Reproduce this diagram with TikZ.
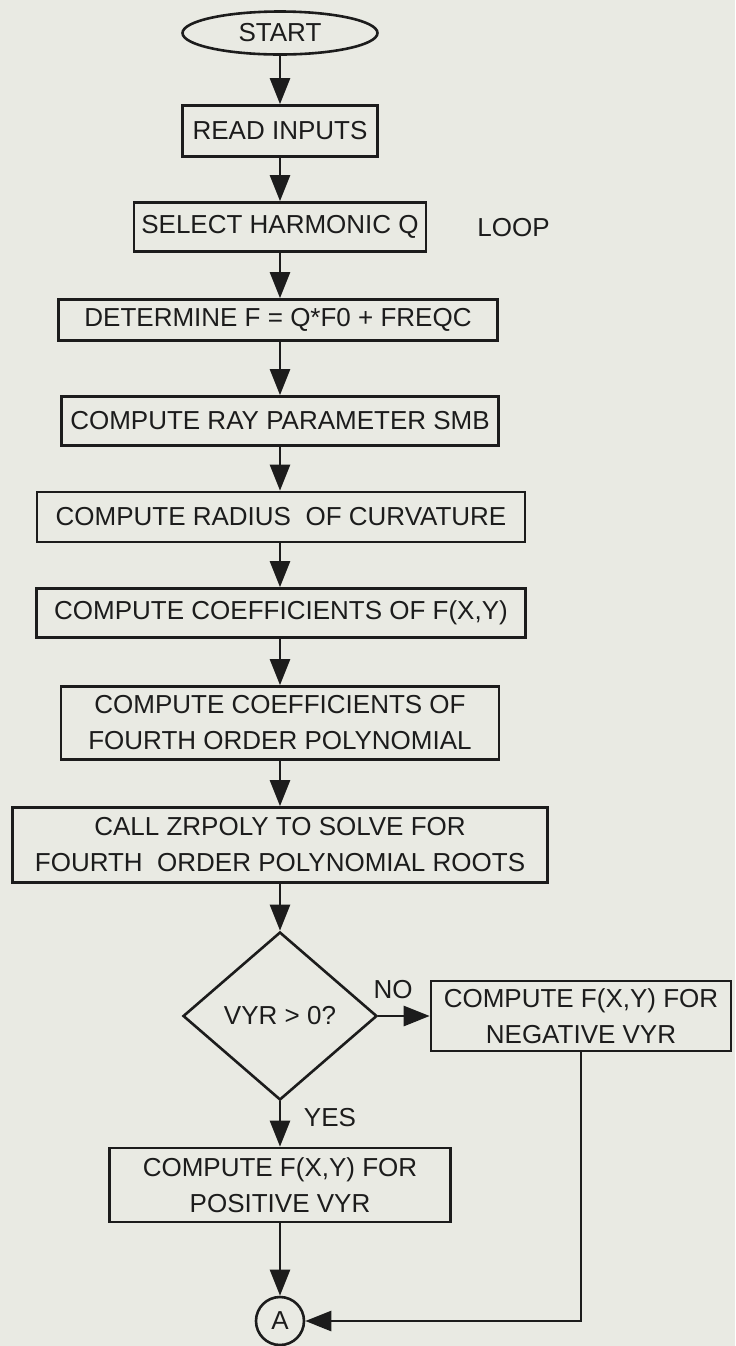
\documentclass[tikz,border=0pt]{standalone}
\usepackage{fontspec}
\setmainfont{Liberation Sans}
\usetikzlibrary{shapes.geometric,arrows.meta}
\definecolor{paper}{RGB}{233,234,227}
\definecolor{ink}{RGB}{28,28,28}
\begin{document}
\begin{tikzpicture}[x=0.5pt,y=-0.5pt]
\tikzstyle{block}=[draw=ink,line width=1.3pt,rectangle,inner sep=2pt,align=center,text=ink,font=\fontsize{13}{18}\selectfont]
\tikzstyle{term}=[block,ellipse,inner sep=0pt]
\tikzstyle{test}=[block,diamond,inner sep=0pt]
\tikzstyle{conn}=[block,circle,inner sep=0pt,minimum size=24pt]
\tikzstyle{flow}=[draw=ink,line width=1.3pt,-{Triangle[length=13pt,width=10pt]}]
\tikzstyle{tag}=[text=ink,font=\fontsize{13}{15}\selectfont,inner sep=0pt]
\fill[paper] (0,0) rectangle (735,1346);
\useasboundingbox (0,0) rectangle (735,1346);
\draw (280,33)   node[term,minimum width=97.5pt,minimum height=21.5pt] (start) {START};
\draw (280,131)  node[block,minimum width=97.5pt,minimum height=25.5pt] (read)  {READ INPUTS};
\draw (280,227)  node[block,minimum width=146pt,minimum height=24.5pt]  (harm)  {SELECT HARMONIC Q};
\draw (278,320)  node[block,minimum width=219.5pt,minimum height=20.5pt] (freq) {DETERMINE F = Q*F0 + FREQC};
\draw (280,421)  node[block,minimum width=218.5pt,minimum height=24.5pt] (smb)  {COMPUTE RAY PARAMETER SMB};
\draw (281,517)  node[block,minimum width=244pt,minimum height=25pt]    (rad)  {COMPUTE RADIUS\ \ OF CURVATURE};
\draw (281,613)  node[block,minimum width=244.5pt,minimum height=24.5pt] (cfxy) {COMPUTE COEFFICIENTS OF F(X,Y)};
\draw (280,723)  node[block,minimum width=219pt,minimum height=36.5pt]  (cpol) {COMPUTE COEFFICIENTS OF\\FOURTH ORDER POLYNOMIAL};
\draw (280,845)  node[block,minimum width=267.5pt,minimum height=37.5pt] (zrp)  {CALL ZRPOLY TO SOLVE FOR\\FOURTH\ \ ORDER POLYNOMIAL ROOTS};
\draw (280,1016) node[test,minimum width=97pt,minimum height=84pt]      (dec)  {VYR > 0?};
\draw (581,1016) node[block,minimum width=150pt,minimum height=35pt]    (neg)  {COMPUTE F(X,Y) FOR\\NEGATIVE VYR};
\draw (280,1185) node[block,minimum width=170.5pt,minimum height=37pt]  (pos)  {COMPUTE F(X,Y) FOR\\POSITIVE VYR};
\draw (280,1321) node[conn] (conA) {A};
\draw (477,228)  node[tag,anchor=west] (loop) {LOOP};
\draw (393,990)  node[tag] (no)  {NO};
\draw (330,1118) node[tag] (yes) {YES};
\draw[flow] (start) -- (read);
\draw[flow] (read) -- (harm);
\draw[flow] (harm) -- (freq.north -| harm);
\draw[flow] (freq.south -| harm) -- (smb);
\draw[flow] (smb) -- (rad.north -| smb);
\draw[flow] (rad.south -| smb) -- (cfxy.north -| smb);
\draw[flow] (cfxy.south -| smb) -- (cpol);
\draw[flow] (cpol) -- (zrp);
\draw[flow] (zrp) -- (dec);
\draw[flow] (dec) -- (neg);
\draw[flow] (dec) -- (pos);
\draw[flow] (pos) -- (conA);
\draw[flow] (neg) |- (conA);
\end{tikzpicture}
\end{document}
